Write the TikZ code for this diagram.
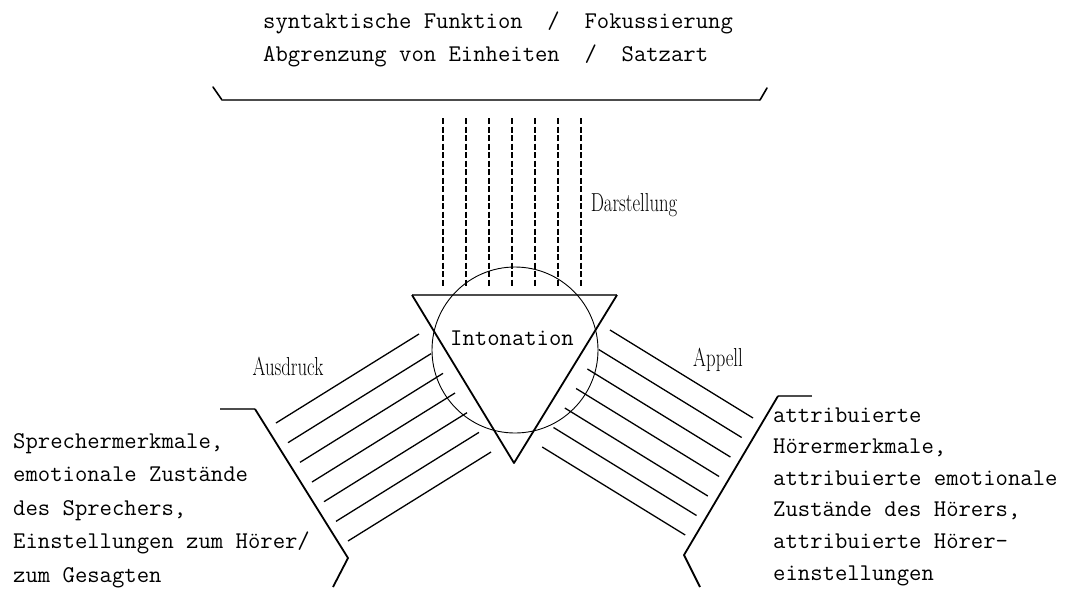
\documentclass[tikz,border=0pt]{standalone}
\usepackage{fontspec}
\usepackage{graphicx}
\usetikzlibrary{calc}
\tikzset{
  typed/.style={font=\ttfamily\fontsize{24}{33}\selectfont, inner sep=0pt},
  hand/.style={font=\rmfamily\fontsize{26}{26}\selectfont, inner sep=0pt},
  ruleline/.style={draw=black!70, line width=1.3pt},
  tick/.style={draw=black, line width=1.6pt, line cap=round},
  frame/.style={draw=black, line width=1.8pt, line join=round},
  rays/.style={draw=black, line width=1.4pt, dash pattern=on 6pt off 2.5pt},
  hatch/.style={draw=black, line width=1.3pt},
  ring/.style={circle, draw=black, line width=0.9pt, inner sep=0pt, minimum size=166pt}
}
\newcommand\narrow[1]{\scalebox{0.72}[1]{#1}}
\begin{document}
\begin{tikzpicture}[x=1pt,y=-1pt]
\path[use as bounding box] (0,0) rectangle (1073,590);

% functions of intonation (top)
\node[typed, anchor=base west] (f1) at (263,28) {syntaktische Funktion~~/~~Fokussierung};
\node[typed, anchor=base west] (f2) at (263,61) {Abgrenzung von Einheiten~~/~~Satzart};

% bracket under the functions
\coordinate (ul) at (213,87);
\coordinate (bl) at (222,100);
\coordinate (br) at (760,100);
\coordinate (ur) at (767,88);
\draw[tick] (ul) -- (bl);
\draw[ruleline] (bl) -- (br);
\draw[tick] (br) -- (ur);

% Darstellung: dashed rays
\foreach \i in {0,...,6}{
  \coordinate (ra\i) at (443+23*\i,118);
  \coordinate (rb\i) at (443+23*\i,287);
  \draw[rays] (ra\i) -- (rb\i);
}

% triangle and circle
\coordinate (tl) at (412,295);
\coordinate (tr) at (617,295);
\coordinate (tb) at (514,463);
\draw[ruleline] (tl) -- (tr);
\draw[frame] (tl) -- (tb) -- (tr);
\node[ring] (circ) at (515,350) {};
\node[typed] (into) at (512,338) {Intonation};

% Ausdruck: hatch to the left
\foreach \i in {0,...,6}{
  \coordinate (la\i) at ($(276,423)+\i*(12,19.67)$);
  \coordinate (lb\i) at ($(la\i)+(143,-89)$);
  \draw[hatch] (la\i) -- (lb\i);
}
% Appell: hatch to the right
\foreach \i in {0,...,6}{
  \coordinate (qa\i) at ($(610,330)+\i*(-11.3,19.5)$);
  \coordinate (qb\i) at ($(qa\i)+(143,88)$);
  \draw[hatch] (qa\i) -- (qb\i);
}

% side brackets
\coordinate (lt) at (220,409);
\coordinate (lc) at (255,409);
\coordinate (lk) at (348,558);
\coordinate (le) at (333,587);
\draw[ruleline] (lt) -- (lc);
\draw[frame] (lc) -- (lk) -- (le);
\coordinate (rt) at (812,396);
\coordinate (rc) at (778,396);
\coordinate (rk) at (684,555);
\coordinate (re) at (700,587);
\draw[ruleline] (rt) -- (rc);
\draw[frame] (rc) -- (rk) -- (re);

% labels
\node[hand] (dar) at (634,205) {\narrow{Darstellung}};
\node[hand] (aus) at (288,366) {\narrow{Ausdruck}};
\node[hand] (app) at (718,360) {\narrow{Appell}};

% side texts (anchored at the baseline of their last line)
\node[typed, anchor=base west, align=left, font=\ttfamily\fontsize{24}{33.5}\selectfont] (spr) at (13,582)
  {Sprechermerkmale,\\emotionale Zustände\\des Sprechers,\\Einstellungen zum Hörer/\\zum Gesagten};
\node[typed, anchor=base west, align=left, font=\ttfamily\fontsize{24}{31.6}\selectfont] (hoer) at (773,580)
  {attribuierte\\Hörermerkmale,\\attribuierte emotionale\\Zustände des Hörers,\\attribuierte Hörer-\\einstellungen};
\end{tikzpicture}
\end{document}
